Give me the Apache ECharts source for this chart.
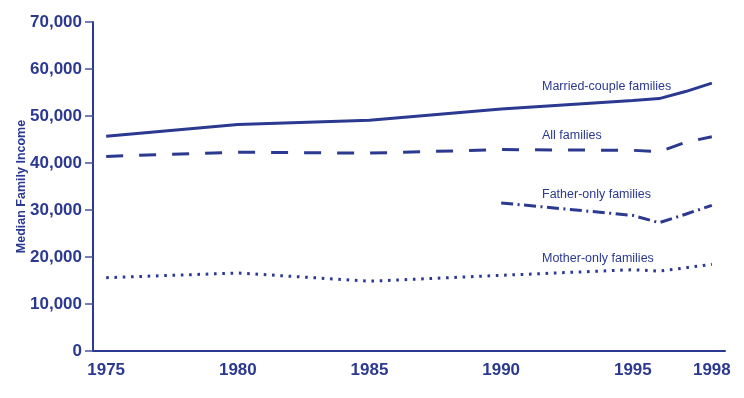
<!DOCTYPE html>
<html>
<head>
<meta charset="utf-8">
<script src="https://cdn.jsdelivr.net/npm/echarts@6/dist/echarts.min.js"></script>
<style>
  html, body { margin: 0; padding: 0; background: #fff; }
  #chart { width: 744px; height: 398px; }
</style>
</head>
<body>
<div id="chart"></div>
<script>
// years on the axis, one band per year
const years = [];
for (let y = 1975; y <= 1998; y++) years.push(String(y));
const labelYears = ['1975', '1980', '1985', '1990', '1995', '1998'];

// median family income (null = no point)
const marriedCouple = [45700, null, null, null, null, 48200, null, null, null, null, 49100, null, null, null, null, 51500, null, null, null, null, 53300, 53700, 55200, 57000];
const allFamilies   = [41400, null, null, null, null, 42300, null, null, null, null, 42100, null, null, null, null, 42850, null, null, null, null, 42700, 42400, 44400, 45600];
const fatherOnly    = [null, null, null, null, null, null, null, null, null, null, null, null, null, null, null, 31500, null, null, null, null, 28850, 27300, 29100, 31000];
const motherOnly    = [15600, null, null, null, null, 16600, null, null, null, null, 14850, null, null, null, null, 16100, null, null, null, null, 17300, 17000, 17700, 18450];

const yTicks = [0, 10000, 20000, 30000, 40000, 50000, 60000, 70000];

const navy = '#2b3990';
const tickFont = '"Liberation Sans", Arial, sans-serif';

const chart = echarts.init(document.getElementById('chart'));

const lineSeries = (name, data, type) => ({
  name: name,
  type: 'line',
  data: data,
  connectNulls: true,
  symbol: 'none',
  lineStyle: { color: navy, width: 3, type: type, cap: 'butt' },
  animation: false,
});

chart.setOption({
  animation: false,
  grid: { left: 93, right: 19, top: 22, bottom: 47, containLabel: false, outerBoundsMode: 'none' },
  xAxis: {
    type: 'category',
    data: years,
    boundaryGap: true,
    axisLine: { lineStyle: { color: navy, width: 2 } },
    axisTick: { interval: 0, length: 8, lineStyle: { color: '#4a56a0', width: 1.5 } },
    axisLabel: {
      interval: (i, v) => labelYears.includes(v),
      margin: 11,
      color: navy,
      fontFamily: tickFont,
      fontWeight: 'bold',
      fontSize: 17,
    },
    splitLine: { show: false },
  },
  yAxis: {
    type: 'value',
    min: yTicks[0],
    max: yTicks[yTicks.length - 1],
    interval: 10000,
    name: 'Median Family Income',
    nameLocation: 'middle',
    nameGap: 65,
    nameMoveOverlap: false,
    nameTextStyle: {
      color: navy,
      fontFamily: tickFont,
      fontWeight: 'bold',
      fontSize: 12.5,
    },
    axisLine: { show: true, lineStyle: { color: navy, width: 2 } },
    axisTick: { show: true, length: 8, lineStyle: { color: '#4a56a0', width: 1.5 } },
    axisLabel: {
      margin: 11,
      color: navy,
      fontFamily: tickFont,
      fontWeight: 'bold',
      fontSize: 17,
      formatter: v => v.toLocaleString('en-US'),
    },
    splitLine: { show: false },
  },
  series: [
    lineSeries('Married-couple families', marriedCouple, 'solid'),
    lineSeries('All families', allFamilies, [17, 16]),
    lineSeries('Father-only families', fatherOnly, [12, 4.5, 2, 4.5]),
    lineSeries('Mother-only families', motherOnly, [2.6, 5.7]),
  ],
  graphic: [
    { text: 'Married-couple families', y: 87 },
    { text: 'All families', y: 136 },
    { text: 'Father-only families', y: 195 },
    { text: 'Mother-only families', y: 259 },
  ].map(t => ({
    type: 'text',
    x: 542,
    y: t.y,
    style: {
      text: t.text,
      fill: navy,
      font: '12.5px "Liberation Sans", Arial, sans-serif',
      textVerticalAlign: 'middle',
    },
  })),
});
</script>
</body>
</html>
